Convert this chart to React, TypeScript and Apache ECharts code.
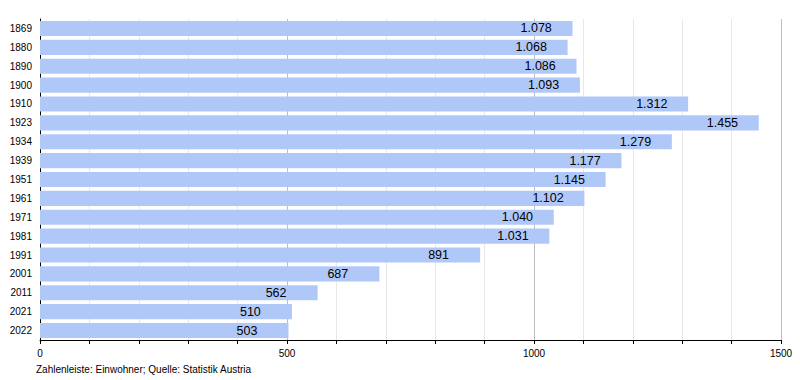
import React, { useEffect, useRef } from "react";
import * as echarts from "echarts";

const years = ["1869", "1880", "1890", "1900", "1910", "1923", "1934", "1939", "1951", "1961", "1971", "1981", "1991", "2001", "2011", "2021", "2022"];
const population = [1078, 1068, 1086, 1093, 1312, 1455, 1279, 1177, 1145, 1102, 1040, 1031, 891, 687, 562, 510, 503];
const footnote = "Zahlenleiste: Einwohner; Quelle: Statistik Austria";

const fmt = (v: number) => {
  const s = String(v);
  return s.length > 3 ? s.slice(0, s.length - 3) + "." + s.slice(s.length - 3) : s;
};

export default function App() {
  const ref = useRef<HTMLDivElement>(null);
  useEffect(() => {
    if (!ref.current) return;
    const chart = echarts.init(ref.current, null, { renderer: "svg" });
    const font = "Liberation Sans, Arial, Helvetica, sans-serif";
    chart.setOption({
      animation: false,
      textStyle: { fontFamily: font },
      grid: { left: 40, right: 19, top: 19, bottom: 40, containLabel: false },
      xAxis: {
        type: "value",
        min: 0,
        max: 1500,
        interval: 100,
        axisLine: { show: true, lineStyle: { color: "#000", width: 1 } },
        axisTick: { show: true, length: 4, lineStyle: { color: "#000" } },
        axisLabel: {
          color: "#000",
          fontSize: 10,
          fontFamily: font,
          margin: 8,
          formatter: (v: number) => (v % 500 === 0 ? String(v) : ""),
        },
        splitLine: {
          show: true,
          lineStyle: { color: ["#bdbdbd", "#e8e8e8", "#e8e8e8", "#e8e8e8", "#e8e8e8"], width: 1 },
        },
      },
      yAxis: {
        type: "category",
        data: years,
        inverse: true,
        axisLine: { show: true, lineStyle: { color: "#000", width: 1 } },
        axisTick: { show: false },
        axisLabel: { color: "#000", fontSize: 10, fontFamily: font, margin: 8 },
        splitLine: { show: false },
      },
      series: [
        {
          type: "bar",
          data: population,
          barCategoryGap: "20%",
          itemStyle: { color: "#b0c8f8" },
          label: {
            show: true,
            position: "insideRight",
            distance: 52,
            align: "left",
            color: "#000",
            fontSize: 12.5,
            fontFamily: font,
            formatter: (p: any) => fmt(p.value),
          },
        },
      ],
      graphic: [
        {
          type: "text",
          left: 36,
          top: 364,
          style: { text: footnote, fill: "#000", font: `10px ${font}` },
        },
      ],
    });
    return () => chart.dispose();
  }, []);
  return <div ref={ref} style={{ width: 800, height: 380, position: "absolute", left: 0, top: 0 }} />;
}
